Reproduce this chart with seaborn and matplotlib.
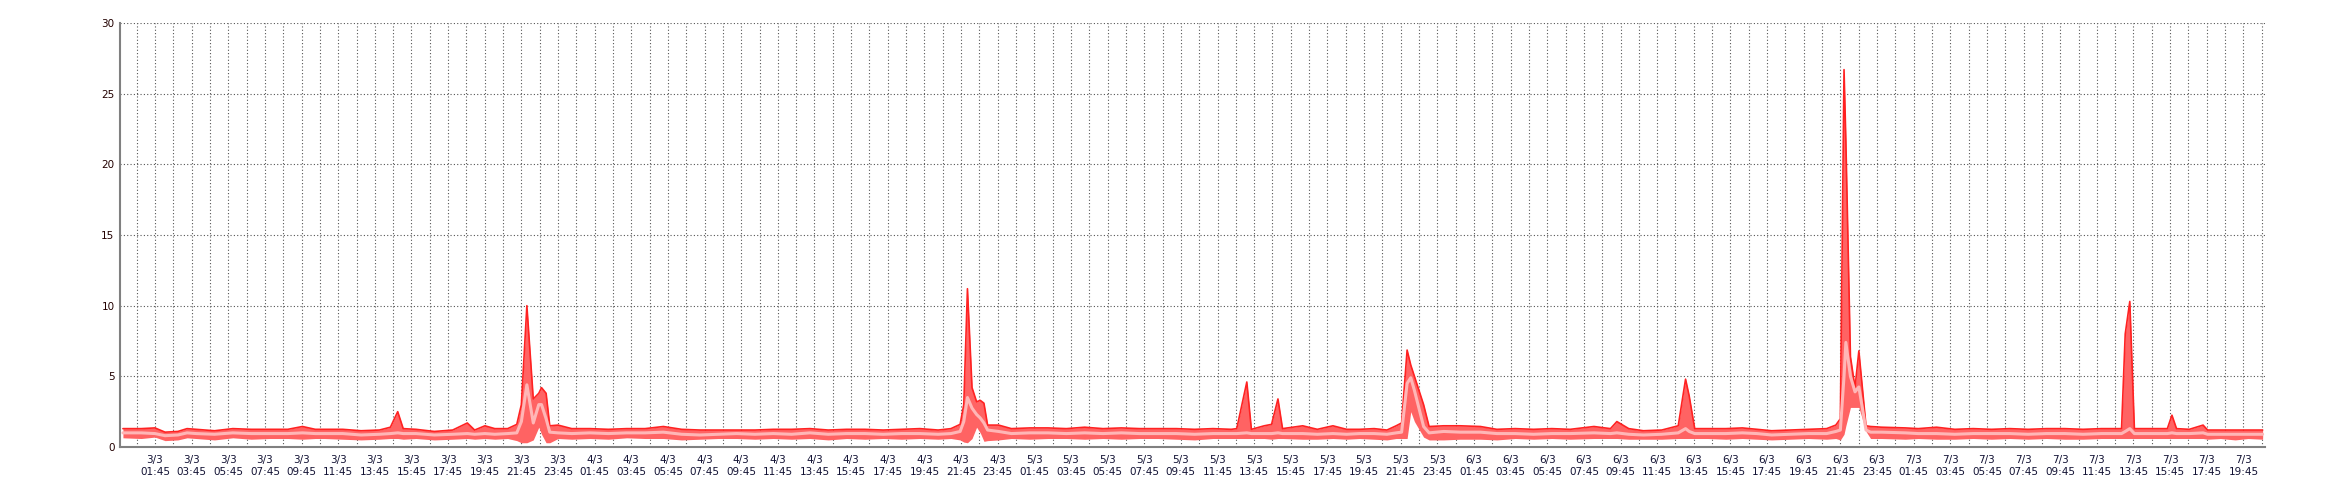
import numpy as np
import pandas as pd
import matplotlib
matplotlib.use("Agg")
import matplotlib.pyplot as plt
import seaborn as sns

# hours since 3/3 00:00
hours = [0, 1, 1.75, 2.3, 3, 3.5, 4, 5, 6, 7, 8, 9, 9.8, 10.5, 11, 12, 13, 14,
         14.6, 15.0, 15.3, 16, 17, 18, 18.8, 19.2, 19.76, 20.3, 21, 21.5, 21.75,
         22.05, 22.4, 22.7, 22.85, 23.1, 23.3, 23.75, 24.5, 25.5, 26.5, 27.5,
         28.5, 29.5, 30.5, 31.5, 32.5, 33.5, 34.5, 35.5, 36.5, 37.5, 38.5, 39.5,
         40.5, 41.5, 42.5, 43.5, 44.5, 45.2, 45.7, 45.9, 46.1, 46.35, 46.6, 46.8,
         47.0, 47.2, 47.8, 48.5, 49.5, 50.5, 51.5, 52.5, 53.5, 54.5, 55.5, 56.5,
         57.5, 58.5, 59.5, 60.5, 60.8, 61.35, 61.6, 62.3, 62.7, 63.05, 63.3, 64.4,
         65.2, 66.05, 66.8, 67.5, 68.3, 69.0, 69.5, 69.8, 70.1, 70.3, 70.5, 71.0,
         71.3, 72.1, 73.0, 74.1, 75, 76, 77, 78, 79, 80.3, 81.2, 81.55, 82.2, 83,
         84, 84.9, 85.3, 85.5, 85.8, 86.5, 87.5, 88.4, 89.2, 90, 91, 92, 93, 93.5,
         93.75, 93.95, 94.05, 94.3, 94.55, 94.76, 95.15, 95.4, 96, 97.3, 98, 99,
         100, 101, 102, 103, 104, 105, 106, 107, 108, 109.1, 109.3, 109.55, 109.8,
         110.5, 111.3, 111.6, 111.85, 112.1, 112.8, 113.55, 113.8, 114.5, 115.3,
         116, 116.8]

v_max = [1.3, 1.3, 1.35, 1.05, 1.1, 1.3, 1.25, 1.15, 1.3, 1.25, 1.25, 1.25, 1.45, 1.25, 1.25, 1.25, 1.15, 1.2,
         1.4, 2.5, 1.3, 1.25, 1.1, 1.2, 1.7, 1.2, 1.5, 1.3, 1.3, 1.6, 3.0,
         10.0, 3.4, 3.8, 4.2, 3.8, 1.5, 1.55, 1.3, 1.3, 1.25, 1.3,
         1.3, 1.45, 1.25, 1.2, 1.2, 1.2, 1.2, 1.25, 1.25, 1.3, 1.2, 1.25,
         1.25, 1.2, 1.25, 1.3, 1.2, 1.3, 1.6, 3.0, 11.2, 4.2, 3.2, 3.3,
         3.1, 1.55, 1.55, 1.3, 1.35, 1.35, 1.3, 1.4, 1.3, 1.35, 1.3, 1.3,
         1.3, 1.25, 1.3, 1.25, 1.3, 4.6, 1.25, 1.5, 1.6, 3.4, 1.3, 1.5,
         1.25, 1.5, 1.25, 1.25, 1.3, 1.2, 1.5, 1.7, 6.86, 5.8, 5.0, 3.0,
         1.45, 1.5, 1.5, 1.45, 1.25, 1.3, 1.25, 1.3, 1.25, 1.45, 1.3, 1.8, 1.3, 1.15,
         1.2, 1.5, 4.8, 3.6, 1.3, 1.3, 1.3, 1.35, 1.25, 1.15, 1.2, 1.25, 1.3, 1.55,
         2.0, 26.7, 21.7, 6.4, 4.2, 6.8, 1.5, 1.45, 1.4, 1.35, 1.3, 1.4,
         1.25, 1.3, 1.25, 1.3, 1.25, 1.3, 1.3, 1.25, 1.3, 1.3, 8.0, 10.3, 1.3,
         1.3, 1.3, 1.3, 2.25, 1.3, 1.25, 1.55, 1.2, 1.2, 1.2,
         1.2, 1.2]

v_avg = [1.0, 1.0, 0.95, 0.8, 0.85, 1.0, 0.95, 0.9, 1.0, 0.95, 0.95, 0.95, 1.0, 0.95, 0.95, 0.95, 0.85, 0.9,
         0.95, 1.0, 0.95, 0.95, 0.85, 0.9, 0.95, 0.9, 0.95, 0.9, 0.95, 1.0, 1.8,
         4.4, 1.7, 3.0, 3.0, 2.0, 1.05, 1.0, 0.95, 1.0, 0.95, 1.0,
         1.0, 1.05, 0.9, 0.85, 0.9, 0.95, 0.9, 0.95, 0.9, 1.0, 0.9, 0.95,
         0.95, 0.9, 0.95, 0.95, 0.9, 0.95, 1.1, 1.8, 3.5, 2.75, 2.3, 2.05,
         1.7, 1.2, 1.1, 0.95, 1.0, 1.0, 0.95, 1.0, 0.95, 1.0, 0.95, 0.95,
         0.95, 0.9, 0.95, 0.95, 0.95, 1.0, 0.95, 0.95, 0.95, 1.0, 0.95, 0.95,
         0.9, 0.95, 0.9, 0.95, 0.95, 0.9, 1.0, 1.05, 4.5, 4.9, 4.0, 1.45,
         1.0, 1.1, 1.05, 1.05, 0.95, 0.95, 0.9, 0.95, 0.95, 1.0, 0.95, 1.0, 0.9, 0.85,
         0.9, 1.0, 1.3, 1.1, 0.95, 0.95, 0.95, 1.0, 0.95, 0.85, 0.9, 0.95, 0.95, 1.1,
         1.2, 5.0, 7.4, 5.0, 3.9, 4.25, 1.2, 1.05, 1.05, 1.0, 0.95, 0.95,
         0.9, 0.95, 0.95, 0.95, 0.9, 0.95, 0.95, 0.9, 0.95, 0.95, 1.1, 1.3, 0.95,
         0.95, 0.95, 0.95, 1.0, 0.95, 0.95, 1.0, 0.9, 0.9, 0.9,
         0.9, 0.9]

v_min = [0.65, 0.6, 0.7, 0.45, 0.5, 0.65, 0.6, 0.5, 0.65, 0.55, 0.6, 0.6, 0.55, 0.6, 0.6, 0.55, 0.5, 0.55,
         0.6, 0.6, 0.55, 0.6, 0.5, 0.55, 0.6, 0.55, 0.6, 0.55, 0.6, 0.45, 0.3,
         0.3, 0.5, 1.4, 0.9, 0.3, 0.3, 0.6, 0.55, 0.6, 0.55, 0.65,
         0.6, 0.6, 0.5, 0.55, 0.6, 0.6, 0.55, 0.6, 0.55, 0.6, 0.5, 0.6,
         0.55, 0.6, 0.55, 0.6, 0.55, 0.6, 0.5, 0.35, 0.3, 0.6, 1.4, 1.0,
         0.4, 0.45, 0.5, 0.6, 0.55, 0.6, 0.6, 0.55, 0.6, 0.55, 0.6, 0.6,
         0.55, 0.5, 0.6, 0.6, 0.6, 0.6, 0.6, 0.6, 0.55, 0.6, 0.6, 0.55,
         0.55, 0.6, 0.55, 0.6, 0.55, 0.5, 0.6, 0.6, 0.6, 2.5, 1.8, 0.7,
         0.5, 0.5, 0.55, 0.55, 0.5, 0.6, 0.55, 0.6, 0.55, 0.6, 0.6, 0.6, 0.55, 0.55,
         0.55, 0.6, 0.6, 0.6, 0.6, 0.6, 0.55, 0.6, 0.55, 0.5, 0.55, 0.6, 0.55, 0.6,
         0.5, 0.9, 1.5, 2.8, 2.8, 2.8, 1.1, 0.6, 0.6, 0.55, 0.6, 0.55,
         0.55, 0.6, 0.55, 0.6, 0.55, 0.6, 0.55, 0.55, 0.6, 0.6, 0.6, 0.6, 0.6,
         0.6, 0.6, 0.6, 0.6, 0.6, 0.6, 0.6, 0.55, 0.6, 0.5,
         0.6, 0.55]

days = ["3/3", "4/3", "5/3", "6/3", "7/3"]
label_times = ["01:45", "03:45", "05:45", "07:45", "09:45", "11:45",
               "13:45", "15:45", "17:45", "19:45", "21:45", "23:45"]

df = pd.DataFrame({"h": hours, "vmax": v_max, "vavg": v_avg, "vmin": v_min})

# tick labels every 2 h (xx:45), grid every hour
tick_labels = [f"{d}\n{t}" for d in days for t in label_times][:58]
tick_pos = [1.75 + 2 * i for i in range(len(tick_labels))]
grid_pos = [0.75 + i for i in range(117)]

sns.set_style("white")
plt.rcParams["font.family"] = ["DejaVu Sans"]

fig = plt.figure(figsize=(23.4, 5), dpi=100)
ax = fig.add_axes([120 / 2340, 53 / 500, 2145 / 2340, 424 / 500])

ax.fill_between(df["h"], df["vmin"], df["vmax"], color="#ff6363", lw=0, zorder=2)
sns.lineplot(data=df, x="h", y="vmax", color="#ff2222", lw=1.2,
             estimator=None, sort=False, ax=ax, zorder=3)
sns.lineplot(data=df, x="h", y="vavg", color="#ffb6b6", lw=2.2,
             estimator=None, sort=False, ax=ax, zorder=4)

ax.set_xlim(-0.16, 116.93)
ax.set_ylim(0, 30)
ax.set_yticks(range(0, 31, 5))
ax.set_xticks(tick_pos)
ax.set_xticklabels(tick_labels)
ax.set_xticks(grid_pos, minor=True)
ax.set_xlabel("")
ax.set_ylabel("")

dots = (0, (1, 2))
ax.grid(which="both", axis="x", ls=dots, color="#555555", lw=0.8, zorder=1)
ax.grid(which="major", axis="y", ls=dots, color="#555555", lw=0.8, zorder=1)

ax.tick_params(which="both", length=0)
ax.tick_params(axis="x", labelsize=7.5, pad=6, labelcolor="#111133")
ax.tick_params(axis="y", labelsize=7.5, pad=4, labelcolor="#220000")

for s in ["top", "right"]:
    ax.spines[s].set_visible(False)
for s in ["left", "bottom"]:
    ax.spines[s].set_color("#808080")
    ax.spines[s].set_linewidth(1.5)

fig.savefig("out.png", dpi=100)
